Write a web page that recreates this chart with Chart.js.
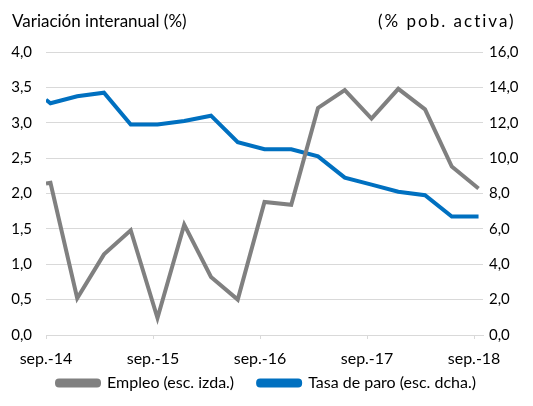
<!DOCTYPE html>
<html>
<head>
<meta charset="utf-8">
<script src="https://cdn.jsdelivr.net/npm/chart.js@4/dist/chart.umd.min.js"></script>
<style>
  html, body { margin: 0; padding: 0; background: #fff; }
  #wrap { position: relative; width: 533px; height: 406px; font-family: Lato, sans-serif; color: #000; }
  #chart { position: absolute; left: 0; top: 0; }
  .head { position: absolute; top: 10px; font-size: 17px; white-space: nowrap; }
</style>
</head>
<body>
<div id="wrap">
  <canvas id="chart" width="533" height="406"></canvas>
  <div class="head" style="left:12px">Variación interanual (%)</div>
  <div class="head" style="left:378px; letter-spacing:2px">(% pob. activa)</div>
</div>
<script>
// months since sep-14 for every observation
const months = [0, 0.5, 3.5, 6.5, 9.5, 12.5, 15.5, 18.5, 21.5, 24.5, 27.5, 30.5, 33.5, 36.5, 39.5, 42.5, 45.5, 48.5];
const empleo = [2.14, 2.15, 0.52, 1.14, 1.48, 0.24, 1.56, 0.82, 0.50, 1.88, 1.84, 3.21, 3.46, 3.06, 3.48, 3.19, 2.38, 2.07];
const paro = [13.3, 13.1, 13.5, 13.7, 11.9, 11.9, 12.1, 12.4, 10.9, 10.5, 10.5, 10.1, 8.9, 8.5, 8.1, 7.9, 6.7, 6.7];
const tickMonths = [0, 12, 24, 36, 48];
const tickLabels = ['sep.-14', 'sep.-15', 'sep.-16', 'sep.-17', 'sep.-18'];

const grey = '#808080';
const blue = '#0070c0';
const gridColor = '#d9d9d9';
const font = { family: 'Lato, sans-serif', size: 15 };
const bigFont = { family: 'Lato, sans-serif', size: 16 };

const toPoints = vals => vals.map((v, i) => ({ x: months[i], y: v }));
const comma = v => v.toFixed(1).replace('.', ',');

// legend sits tighter under the axis labels than Chart.js lays it out
const legendTweak = {
  id: 'legendTweak',
  beforeInit(chart) {
    const fit = chart.legend.fit;
    chart.legend.fit = function () {
      fit.call(this);
      this.height -= 13;
    };
  },
  afterLayout(chart) {
    chart.legend.top -= 18;
    chart.legend.height += 18;
  }
};

new Chart(document.getElementById('chart'), {
  type: 'line',
  data: {
    datasets: [
      {
        label: 'Empleo (esc. izda.)',
        data: toPoints(empleo),
        borderColor: grey,
        backgroundColor: grey,
        borderWidth: 4,
        pointRadius: 0,
        yAxisID: 'y'
      },
      {
        label: 'Tasa de paro (esc. dcha.)',
        data: toPoints(paro),
        borderColor: blue,
        backgroundColor: blue,
        borderWidth: 4,
        pointRadius: 0,
        yAxisID: 'y1'
      }
    ]
  },
  plugins: [legendTweak],
  options: {
    responsive: false,
    animation: false,
    layout: { padding: { top: 52, bottom: 0, left: 0, right: 0 } },
    plugins: {
      legend: {
        position: 'bottom',
        labels: {
          color: '#000',
          font: bigFont,
          boxWidth: 42,
          boxHeight: 5,
          padding: 24,
          useBorderRadius: true,
          borderRadius: 2
        }
      },
      tooltip: { enabled: false }
    },
    scales: {
      x: {
        type: 'linear',
        min: 0,
        max: 49,
        afterBuildTicks: scale => { scale.ticks = tickMonths.map(v => ({ value: v })); },
        afterFit: scale => { scale.height = 34; },
        ticks: {
          color: '#000',
          font: bigFont,
          padding: 10,
          maxRotation: 0,
          callback: v => tickLabels[tickMonths.indexOf(v)]
        },
        grid: { drawOnChartArea: false, color: gridColor, tickLength: 4 },
        border: { color: gridColor }
      },
      y: {
        position: 'left',
        min: 0,
        max: 4,
        afterFit: scale => { scale.width = 46; },
        ticks: { stepSize: 0.5, color: '#000', font: font, padding: 14, callback: v => comma(v) },
        grid: { color: gridColor, drawTicks: false },
        border: { display: false }
      },
      y1: {
        position: 'right',
        min: 0,
        max: 16,
        afterFit: scale => { scale.width = 50; },
        ticks: { stepSize: 2, color: '#000', font: font, padding: 6, callback: v => comma(v) },
        grid: { drawOnChartArea: false, drawTicks: false },
        border: { display: false }
      }
    }
  }
});
</script>
</body>
</html>
